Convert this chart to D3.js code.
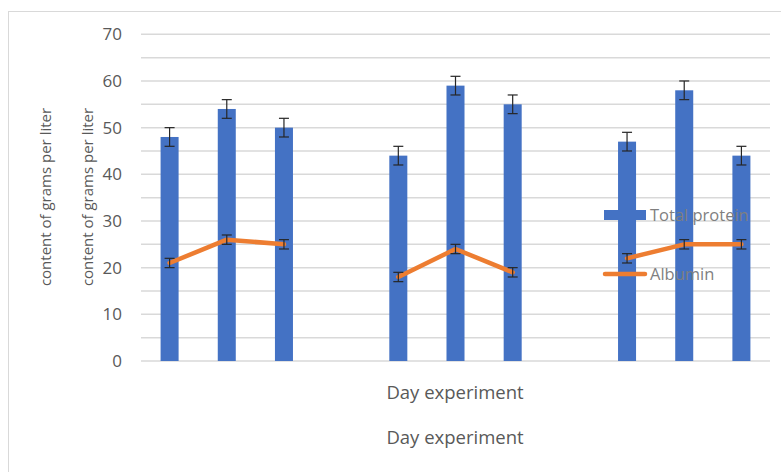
<!DOCTYPE html>
<html>
<head>
<meta charset="utf-8">
<script src="https://cdn.jsdelivr.net/npm/d3@7"></script>
<style>
  body { margin: 0; background: #fff; }
  svg { display: block; font-family: "Open Sans", sans-serif; }
</style>
</head>
<body>
<div id="chart"></div>
<script>
// 11 category slots, the blank ones keep the gap between the three groups
const categories = ["g1a", "g1b", "g1c", "gap1", "g2a", "g2b", "g2c", "gap2", "g3a", "g3b", "g3c"];
const totalProtein = [48, 54, 50, null, 44, 59, 55, null, 47, 58, 44];
const totalProteinErr = [2, 2, 2, null, 2, 2, 2, null, 2, 2, 2];
const albumin = [21, 26, 25, null, 18, 24, 19, null, 22, 25, 25];
const albuminErr = [1, 1, 1, null, 1, 1, 1, null, 1, 1, 1];
const yTicks = [0, 10, 20, 30, 40, 50, 60, 70];
const yGrid = [0, 5, 10, 15, 20, 25, 30, 35, 40, 45, 50, 55, 60, 65, 70];
const seriesNames = ["Total protein", "Albumin"];
const yTitle = "content of grams per liter";
const xTitle = "Day experiment";

const width = 781, height = 472;
const plot = {left: 141, right: 770, top: 34.3, bottom: 361};
const colors = {bar: "#4472C4", line: "#ED7D31", grid: "#d9d9d9", text: "#595959", err: "#262626"};

const svg = d3.select("#chart").append("svg")
    .attr("width", width)
    .attr("height", height);

// chart frame
svg.append("rect")
    .attr("x", 8.5).attr("y", 11.5)
    .attr("width", width).attr("height", height)
    .attr("fill", "none")
    .attr("stroke", colors.grid);

const x = d3.scaleBand()
    .domain(categories)
    .range([plot.left, plot.right])
    .paddingInner(0.685)
    .paddingOuter(0.3425);

const y = d3.scaleLinear()
    .domain([0, 70])
    .range([plot.bottom, plot.top]);

// gridlines every 5
svg.append("g").selectAll("line")
    .data(yGrid)
    .join("line")
    .attr("x1", plot.left).attr("x2", plot.right)
    .attr("y1", d => y(d)).attr("y2", d => y(d))
    .attr("stroke", colors.grid)
    .attr("stroke-width", 1.5);

// y axis labels
const yAxis = d3.axisLeft(y).tickValues(yTicks).tickSize(0).tickPadding(0);
svg.append("g")
    .attr("transform", `translate(122,0)`)
    .call(yAxis)
    .call(g => g.select(".domain").remove())
    .selectAll("text")
    .attr("fill", colors.text)
    .style("font-size", "17px")
    .style("font-family", "'Open Sans', sans-serif");

const cx = i => x(categories[i]) + x.bandwidth() / 2;

// bars
const barData = totalProtein.map((v, i) => ({i, v, e: totalProteinErr[i]})).filter(d => d.v != null);
svg.append("g").selectAll("rect")
    .data(barData)
    .join("rect")
    .attr("x", d => x(categories[d.i]))
    .attr("y", d => y(d.v))
    .attr("width", x.bandwidth())
    .attr("height", d => y(0) - y(d.v))
    .attr("fill", colors.bar);

function errorBars(data) {
    const g = svg.append("g")
        .attr("stroke", colors.err)
        .attr("stroke-width", 1.2);
    g.selectAll(".stem").data(data).join("line")
        .attr("x1", d => cx(d.i)).attr("x2", d => cx(d.i))
        .attr("y1", d => y(d.v - d.e)).attr("y2", d => y(d.v + d.e));
    g.selectAll(".capT").data(data).join("line")
        .attr("x1", d => cx(d.i) - 5).attr("x2", d => cx(d.i) + 5)
        .attr("y1", d => y(d.v + d.e)).attr("y2", d => y(d.v + d.e));
    g.selectAll(".capB").data(data).join("line")
        .attr("x1", d => cx(d.i) - 5).attr("x2", d => cx(d.i) + 5)
        .attr("y1", d => y(d.v - d.e)).attr("y2", d => y(d.v - d.e));
}
errorBars(barData);

// albumin line, broken at the empty slots
const line = d3.line()
    .defined(d => d != null)
    .x((d, i) => cx(i))
    .y(d => y(d));
svg.append("path")
    .datum(albumin)
    .attr("d", line)
    .attr("fill", "none")
    .attr("stroke", colors.line)
    .attr("stroke-width", 4.5)
    .attr("stroke-linejoin", "round")
    .attr("stroke-linecap", "round");

errorBars(albumin.map((v, i) => ({i, v, e: albuminErr[i]})).filter(d => d.v != null));

// legend
const legend = svg.append("g");
legend.append("rect")
    .attr("x", 604).attr("y", 210)
    .attr("width", 42).attr("height", 10)
    .attr("fill", colors.bar);
legend.append("line")
    .attr("x1", 605).attr("x2", 645)
    .attr("y1", 274).attr("y2", 274)
    .attr("stroke", colors.line)
    .attr("stroke-width", 4.5)
    .attr("stroke-linecap", "round");
legend.selectAll("text")
    .data(seriesNames)
    .join("text")
    .attr("x", 650)
    .attr("y", (d, i) => i === 0 ? 215 : 274)
    .attr("dy", "0.35em")
    .attr("fill", "#7f7f7f")
    .style("font-size", "16.5px")
    .text(d => d);

// axis titles (the source chart shows both twice)
[46, 88].forEach(px => {
    svg.append("text")
        .attr("transform", `translate(${px},197) rotate(-90)`)
        .attr("text-anchor", "middle")
        .attr("dy", "0.35em")
        .attr("fill", colors.text)
        .style("font-size", "15px")
        .text(yTitle);
});
[393, 438].forEach(py => {
    svg.append("text")
        .attr("x", 455)
        .attr("y", py)
        .attr("text-anchor", "middle")
        .attr("dy", "0.35em")
        .attr("fill", colors.text)
        .style("font-size", "18.5px")
        .text(xTitle);
});
</script>
</body>
</html>
